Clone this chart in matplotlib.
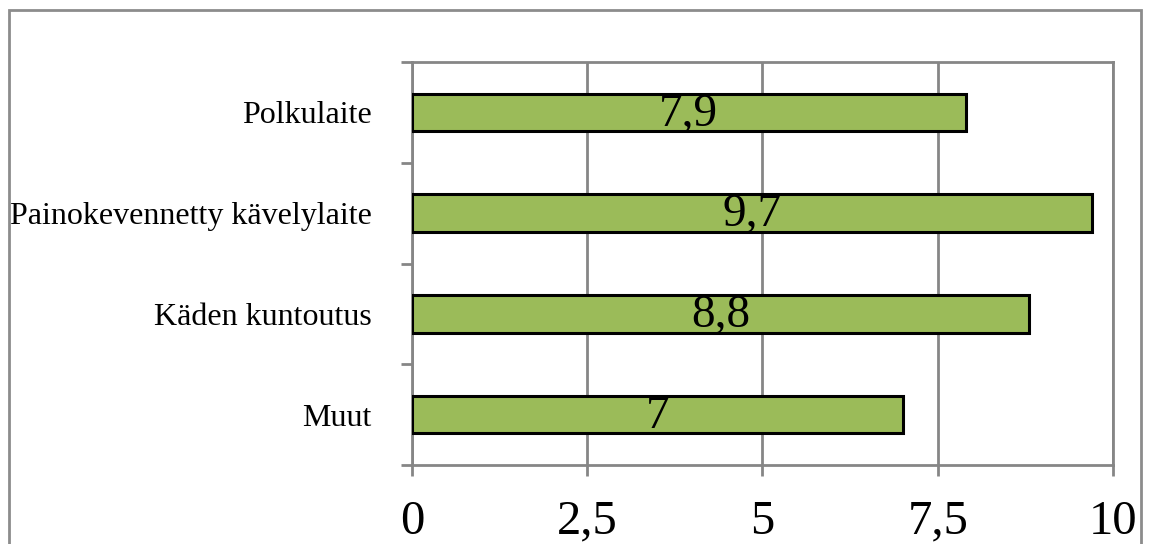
import matplotlib
matplotlib.use("Agg")
import matplotlib.pyplot as plt
from matplotlib.patches import Rectangle

# Chart data (top to bottom as displayed)
categories = ["Polkulaite", "Painokevennetty kävelylaite", "Käden kuntoutus", "Muut"]
values = [7.9, 9.7, 8.8, 7.0]
value_labels = ["7,9", "9,7", "8,8", "7"]
x_ticks = [0, 2.5, 5, 7.5, 10]
x_tick_labels = ["0", "2,5", "5", "7,5", "10"]

W, H = 1151, 544
plt.rcParams["font.family"] = ["Liberation Serif", "DejaVu Serif"]

fig = plt.figure(figsize=(W / 100, H / 100), dpi=100)
ax = fig.add_axes([412 / W, 1 - 465 / H, (1113 - 412) / W, (465 - 62) / H])

grid_col = "#868686"
pos = list(range(len(categories)))[::-1]
ax.barh(pos, values, height=0.37, color="#9BBB59", edgecolor="black",
        linewidth=2.2, zorder=3)
for p, v, lab in zip(pos, values, value_labels):
    ax.text(v / 2, p - 0.02, lab, ha="center", va="center", fontsize=34, zorder=4)

ax.set_xlim(0, 10)
ax.set_ylim(-0.5, len(categories) - 0.5)
ax.set_xticks(x_ticks)
ax.set_xticklabels(x_tick_labels, fontsize=35)
ax.set_yticks(pos)
ax.set_yticklabels(categories, fontsize=23)
ax.set_yticks([p - 0.5 for p in range(len(categories) + 1)], minor=True)
ax.tick_params(axis="y", which="major", length=0, pad=29)
ax.tick_params(axis="y", which="minor", length=8, width=2, color=grid_col)
ax.tick_params(axis="x", length=8, width=2, color=grid_col, pad=17)
ax.xaxis.grid(True, color=grid_col, linewidth=2, zorder=0)
for s in ax.spines.values():
    s.set_color(grid_col)
    s.set_linewidth(2)

# outer chart border
fig.patches.append(Rectangle((8.5 / W, -0.05), (1141 - 8.5) / W, 1.05 - 10 / H,
                             transform=fig.transFigure, fill=False,
                             edgecolor="#8C8C8C", linewidth=2))

fig.savefig("out.png", dpi=100)
